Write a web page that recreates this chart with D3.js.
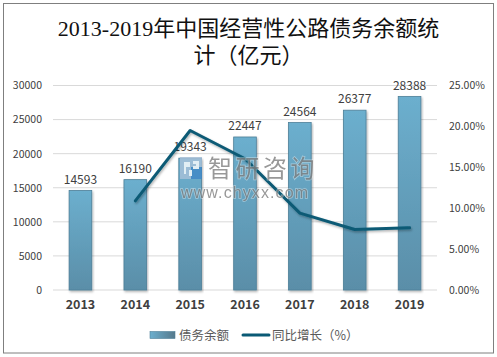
<!DOCTYPE html>
<html>
<head>
<meta charset="utf-8">
<script src="https://cdnjs.cloudflare.com/ajax/libs/d3/7.8.5/d3.min.js"></script>
<style>
  html, body { margin: 0; padding: 0; background: #fff; }
  svg { display: block; }
  text { font-family: "Noto Sans CJK SC", "Noto Sans", sans-serif; fill: #404040; }
</style>
</head>
<body>
<div id="chart"></div>
<script>
const years = ['2013', '2014', '2015', '2016', '2017', '2018', '2019'];
const debt = [14593, 16190, 19343, 22447, 24564, 26377, 28388];
// first year has no growth figure
const growth = [null, 10.9, 19.5, 16.05, 9.4, 7.4, 7.6];
const leftTicks = [0, 5000, 10000, 15000, 20000, 25000, 30000];
const rightTicks = [0, 5, 10, 15, 20, 25];
const titleLines = ['2013-2019年中国经营性公路债务余额统', '计（亿元）'];

const width = 497, height = 357;
const margin = {top: 85.5, right: 60, bottom: 67, left: 53};
const innerW = width - margin.left - margin.right;
const innerH = height - margin.top - margin.bottom;

const svg = d3.select('#chart').append('svg')
    .attr('width', width)
    .attr('height', height);

// Bar gradient + line shadow
const defs = svg.append('defs');
const grad = defs.append('linearGradient')
    .attr('id', 'barFill')
    .attr('x1', 0).attr('y1', 0).attr('x2', 0).attr('y2', 1);
grad.append('stop').attr('offset', '0%').attr('stop-color', '#6cafce');
grad.append('stop').attr('offset', '100%').attr('stop-color', '#5a8ea8');

const legendGrad = defs.append('linearGradient')
    .attr('id', 'legendFill')
    .attr('x1', 0).attr('y1', 0).attr('x2', 1).attr('y2', 0);
legendGrad.append('stop').attr('offset', '0%').attr('stop-color', '#6cafce');
legendGrad.append('stop').attr('offset', '100%').attr('stop-color', '#56798c');

const shadow = defs.append('filter').attr('id', 'softShadow')
    .attr('x', '-10%').attr('y', '-10%').attr('width', '120%').attr('height', '130%');
shadow.append('feDropShadow')
    .attr('dx', 1).attr('dy', 1.5).attr('stdDeviation', 1)
    .attr('flood-color', '#000').attr('flood-opacity', 0.3);

// Outer frame
svg.append('rect')
    .attr('x', 3.5).attr('y', 3.5)
    .attr('width', 490).attr('height', 349.5)
    .attr('fill', '#fff')
    .attr('stroke', '#7f7f7f')
    .attr('stroke-width', 1);

// Title
svg.append('g').selectAll('text')
    .data(titleLines)
    .join('text')
    .attr('x', 248.5)
    .attr('y', (d, i) => 35.5 + i * 27)
    .attr('text-anchor', 'middle')
    .style('font-family', '"Liberation Serif", "Noto Sans CJK SC", serif')
    .style('font-size', '22px')
    .style('fill', '#111')
    .text(d => d);

const g = svg.append('g')
    .attr('transform', `translate(${margin.left},${margin.top})`);

const x = d3.scaleBand()
    .domain(years)
    .range([0, innerW])
    .paddingInner(0.587)
    .paddingOuter(0.2935);

const y = d3.scaleLinear().domain([0, 30000]).range([innerH, 0]);
const yRight = d3.scaleLinear().domain([0, 25]).range([innerH, 0]);

// Gridlines
g.append('g').selectAll('line')
    .data(leftTicks)
    .join('line')
    .attr('x1', 0)
    .attr('x2', innerW)
    .attr('y1', d => y(d))
    .attr('y2', d => y(d))
    .attr('stroke', '#d9d9d9')
    .attr('stroke-width', 1);

// Axes
const leftAxis = g.append('g')
    .call(d3.axisLeft(y).tickValues(leftTicks).tickSize(0).tickPadding(11).tickFormat(d3.format('d')));
leftAxis.select('.domain').remove();

const rightAxis = g.append('g')
    .attr('transform', `translate(${innerW},0)`)
    .call(d3.axisRight(yRight).tickValues(rightTicks).tickSize(0).tickPadding(12).tickFormat(d => d.toFixed(2) + '%'));
rightAxis.select('.domain').remove();

const bottomAxis = g.append('g')
    .attr('transform', `translate(0,${innerH})`)
    .call(d3.axisBottom(x).tickSize(0).tickPadding(10));
bottomAxis.select('.domain').remove();

leftAxis.selectAll('text').style('font-size', '10.5px').style('fill', '#404040');
rightAxis.selectAll('text').style('font-size', '10.5px').style('fill', '#404040');
bottomAxis.selectAll('text')
    .style('font-size', '12.5px')
    .style('font-weight', 'bold')
    .style('fill', '#404040');

// Bars
g.append('g').selectAll('rect')
    .data(years)
    .join('rect')
    .attr('x', d => x(d))
    .attr('y', (d, i) => y(debt[i]))
    .attr('width', x.bandwidth())
    .attr('height', (d, i) => innerH - y(debt[i]))
    .attr('fill', 'url(#barFill)')
    .attr('stroke', '#4d7f98')
    .attr('stroke-width', 0.8)
    .attr('filter', 'url(#softShadow)');

// Bar labels
g.append('g').selectAll('text')
    .data(years)
    .join('text')
    .attr('x', d => x(d) + x.bandwidth() / 2)
    .attr('y', (d, i) => y(debt[i]) - 7)
    .attr('text-anchor', 'middle')
    .style('font-size', '12px')
    .text((d, i) => debt[i]);

// Watermark sits under the growth line
const mark = svg.append('g')
    .attr('transform', 'translate(180,157)')
    .attr('opacity', 0.8);
mark.append('rect').attr('x', 0).attr('y', 0).attr('width', 22).attr('height', 22).attr('fill', '#a9c1d9');
mark.append('rect').attr('x', 11).attr('y', 10).attr('width', 11).attr('height', 12).attr('fill', '#3f87c6');
mark.append('path')
    .attr('d', 'M4 5H10V10H6V17H4ZM13 4H19V12H13V9H16V7H13ZM9 13H12V19H9Z')
    .attr('fill', '#fff');
mark.append('text')
    .attr('x', 28).attr('y', 19.5)
    .style('font-size', '24px')
    .style('letter-spacing', '3.5px')
    .style('fill', '#7f7f7f')
    .style('stroke', '#fff')
    .style('stroke-opacity', 0.5)
    .style('stroke-width', 1.5)
    .style('paint-order', 'stroke')
    .text('智研咨询');
mark.append('text')
    .attr('x', 1).attr('y', 41)
    .style('font-family', '"Liberation Sans", sans-serif')
    .style('font-size', '16px')
    .style('letter-spacing', '1.1px')
    .style('fill', '#7f7f7f')
    .style('stroke', '#fff')
    .style('stroke-opacity', 0.5)
    .style('stroke-width', 1.5)
    .style('paint-order', 'stroke')
    .text('www.chyxx.com');

// Growth line
const line = d3.line()
    .defined((d, i) => growth[i] !== null)
    .x(d => x(d) + x.bandwidth() / 2)
    .y((d, i) => yRight(growth[i]));

g.append('path')
    .datum(years)
    .attr('fill', 'none')
    .attr('stroke', '#0a5a75')
    .attr('stroke-width', 3)
    .attr('stroke-linecap', 'round')
    .attr('stroke-linejoin', 'round')
    .attr('filter', 'url(#softShadow)')
    .attr('d', line);

// Legend
const legend = svg.append('g').attr('transform', 'translate(150,335)');
legend.append('rect')
    .attr('x', 0).attr('y', -3.5)
    .attr('width', 25).attr('height', 7)
    .attr('fill', 'url(#legendFill)')
    .attr('stroke', '#4d7f98')
    .attr('stroke-width', 0.6);
legend.append('text')
    .attr('x', 29).attr('y', 4.5)
    .style('font-size', '12.5px')
    .style('fill', '#595959')
    .text('债务余额');
legend.append('line')
    .attr('x1', 93).attr('x2', 119)
    .attr('y1', 0).attr('y2', 0)
    .attr('stroke', '#0a5a75')
    .attr('stroke-width', 3)
    .attr('stroke-linecap', 'round');
legend.append('text')
    .attr('x', 122).attr('y', 4.5)
    .style('font-size', '12.5px')
    .style('fill', '#595959')
    .text('同比增长（%）');
</script>
</body>
</html>
